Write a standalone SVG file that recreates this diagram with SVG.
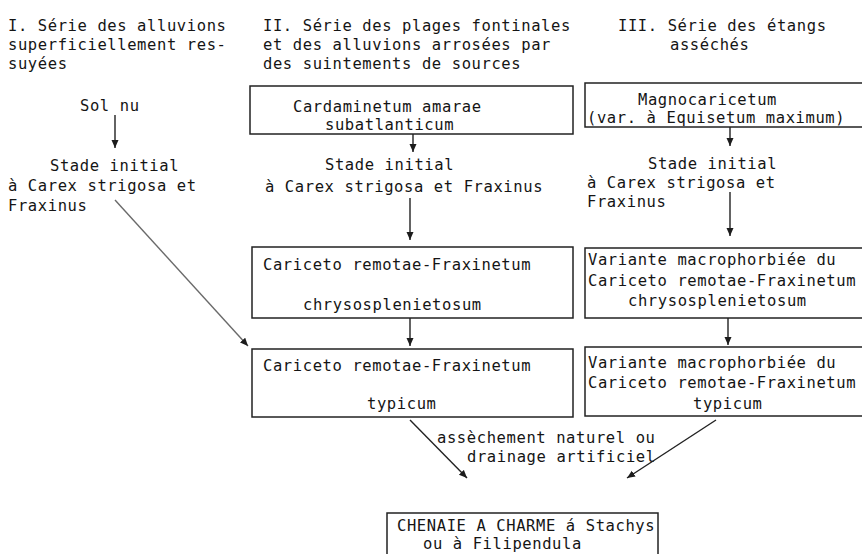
<svg xmlns="http://www.w3.org/2000/svg" width="862" height="554" viewBox="0 0 862 554">
<defs>
<style>
text{font-family:"DejaVu Sans Mono","Liberation Mono",monospace;font-size:15.5px;letter-spacing:0.6px;fill:#151515}
.box{fill:none;stroke:#222;stroke-width:1.5}
.con{fill:none;stroke:#222;stroke-width:1.4}
.gray{stroke:#6a6a6a}
</style>
<marker id="ah" markerUnits="userSpaceOnUse" markerWidth="9" markerHeight="8" refX="8" refY="3.5" orient="auto">
<path d="M0,0 L8,3.5 L0,7 z" fill="#1c1c1c"/>
</marker>
</defs>
<rect width="862" height="554" fill="#fff"/>

<g id="header-I">
<text x="8" y="31">I. Série des alluvions</text>
<text x="8" y="50">superficiellement res-</text>
<text x="8" y="69">suyées</text>
</g>
<g id="header-II">
<text x="263" y="31">II. Série des plages fontinales</text>
<text x="263" y="50">et des alluvions arrosées par</text>
<text x="263" y="69">des suintements de sources</text>
</g>
<g id="header-III">
<text x="618" y="31">III. Série des étangs</text>
<text x="670" y="50">asséchés</text>
</g>

<g id="sol-nu"><text x="80" y="111">Sol nu</text></g>
<g id="stade-I">
<text x="50" y="171">Stade initial</text>
<text x="8" y="191">à Carex strigosa et</text>
<text x="8" y="211">Fraxinus</text>
</g>

<g id="cardaminetum">
<rect class="box" x="250" y="86" width="323" height="48"/>
<text x="293" y="112">Cardaminetum amarae</text>
<text x="325" y="130">subatlanticum</text>
</g>
<g id="stade-II">
<text x="325" y="170">Stade initial</text>
<text x="265" y="192">à Carex strigosa et Fraxinus</text>
</g>
<g id="chryso-II">
<rect class="box" x="252" y="247" width="321" height="71"/>
<text x="263" y="270">Cariceto remotae-Fraxinetum</text>
<text x="303" y="310">chrysosplenietosum</text>
</g>
<g id="typicum-II">
<rect class="box" x="252" y="349" width="321" height="68"/>
<text x="263" y="371">Cariceto remotae-Fraxinetum</text>
<text x="367" y="409">typicum</text>
</g>

<g id="magnocaricetum">
<rect class="box" x="585" y="83" width="285" height="44"/>
<text x="638" y="105">Magnocaricetum</text>
<text x="587" y="123">(var. à Equisetum maximum)</text>
</g>
<g id="stade-III">
<text x="648" y="169">Stade initial</text>
<text x="587" y="188">à Carex strigosa et</text>
<text x="587" y="207">Fraxinus</text>
</g>
<g id="chryso-III">
<rect class="box" x="585" y="248" width="285" height="70"/>
<text x="588" y="265">Variante macrophorbiée du</text>
<text x="588" y="286">Cariceto remotae-Fraxinetum</text>
<text x="628" y="306">chrysosplenietosum</text>
</g>
<g id="typicum-III">
<rect class="box" x="585" y="347" width="285" height="69"/>
<text x="588" y="368">Variante macrophorbiée du</text>
<text x="588" y="388">Cariceto remotae-Fraxinetum</text>
<text x="693" y="409">typicum</text>
</g>

<g id="label-drainage">
<text x="437" y="443">assèchement naturel ou</text>
<text x="467" y="462">drainage artificiel</text>
</g>

<g id="chenaie">
<rect class="box" x="387" y="513" width="271" height="60"/>
<text x="397" y="531">CHENAIE A CHARME á Stachys</text>
<text x="423" y="549">ou à Filipendula</text>
</g>

<g id="connectors">
<line class="con" x1="115" y1="115" x2="115" y2="148" marker-end="url(#ah)"/>
<line class="con gray" x1="115" y1="200" x2="248" y2="346" marker-end="url(#ah)"/>
<line class="con" x1="413" y1="134" x2="413" y2="152" marker-end="url(#ah)"/>
<line class="con" x1="410" y1="198" x2="410" y2="240" marker-end="url(#ah)"/>
<line class="con" x1="410" y1="318" x2="410" y2="346" marker-end="url(#ah)"/>
<line class="con" x1="730" y1="127" x2="730" y2="146" marker-end="url(#ah)"/>
<line class="con" x1="730" y1="192" x2="730" y2="236" marker-end="url(#ah)"/>
<line class="con" x1="728" y1="318" x2="728" y2="345" marker-end="url(#ah)"/>
<line class="con" x1="410" y1="420" x2="467" y2="478" marker-end="url(#ah)"/>
<line class="con" x1="716" y1="420" x2="627" y2="478" marker-end="url(#ah)"/>
</g>
</svg>
